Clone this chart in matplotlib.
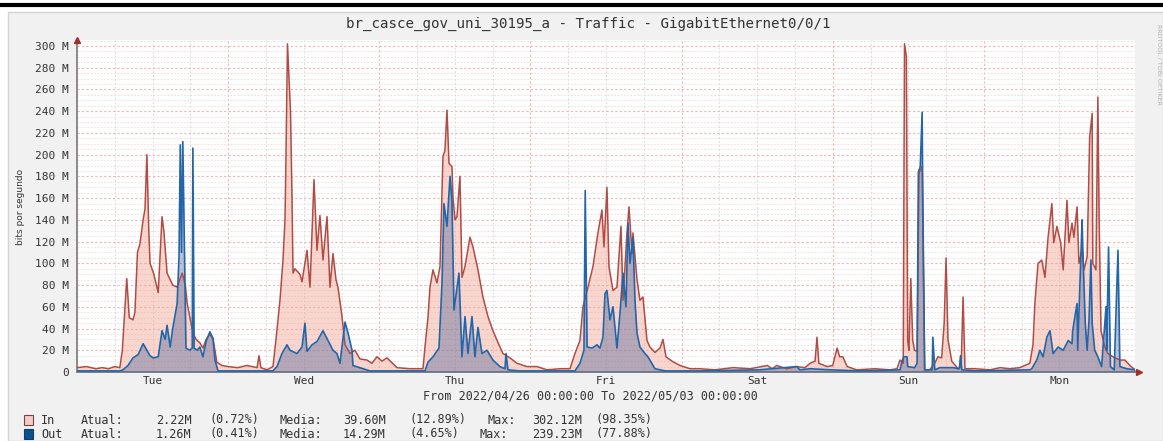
import matplotlib
matplotlib.use("Agg")
import matplotlib.pyplot as plt
from matplotlib.ticker import MultipleLocator, FuncFormatter
from matplotlib.patches import Rectangle
from matplotlib.lines import Line2D

W, H = 1163, 441
MONO = "DejaVu Sans Mono"

title = "br_casce_gov_uni_30195_a - Traffic - GigabitEthernet0/0/1"
period = "From 2022/04/26 00:00:00 To 2022/05/03 00:00:00"
days = ["Tue", "Wed", "Thu", "Fri", "Sat", "Sun", "Mon"]

# hours since 2022/04/26 00:00, traffic in Mbit/s
in_hours = [0, 1.5, 3, 4, 5, 6, 6.8, 7.2, 7.9, 8.3, 8.9, 9.2, 9.6, 10.0, 10.5, 10.8, 11.1, 11.4,
            11.6, 12.2, 12.9, 13.5, 13.8, 14.3, 15.2, 15.9, 16.7, 17.2, 17.5, 17.9, 18.4, 18.9,
            19.5, 20.0, 20.5, 21.1, 21.6, 21.9, 22.2, 23, 24, 25.5, 27, 28.6, 28.9, 29.2, 30.17,
            31.12, 31.6, 32.23, 32.71, 33.03, 33.19, 33.42, 33.9, 34.14, 34.3, 34.6, 35.4, 35.73,
            36.2, 36.52, 37.0, 37.63, 38.11, 38.58, 39.06, 39.7, 40.17, 40.65, 41.12, 41.44, 42.08,
            42.56, 43.35, 44.14, 44.93, 46.05, 46.84, 47.63, 48.43, 49.22, 50.81, 52.87, 54.94,
            55.26, 55.73, 56.05, 56.53, 57.16, 57.64, 58.11, 58.43, 58.75, 59.07, 59.54, 59.7,
            60.02, 60.34, 60.81, 61.13, 61.61, 62.4, 62.88, 63.67, 64.46, 65.26, 66.05, 66.85,
            67.64, 68.75, 69.86, 71.45, 73.04, 74.63, 76.69, 78.28,
            79.07, 79.87, 80.34, 81.14, 81.93, 82.72, 83.36, 83.68, 84.15, 84.47, 85.11, 85.74,
            86.38, 86.7, 87.33, 87.65, 88.13, 88.28, 88.92, 89.39, 89.87, 90.51, 90.98, 91.78,
            92.57, 93.05, 93.52, 94.48, 95.75, 97.34,
            98.92, 101.3, 104.2, 106.9, 109.6, 110.4, 111.1, 112.7, 114.3, 115.6, 116.4, 117.2,
            117.5, 117.8, 119.1, 120.0, 120.7, 121.1, 121.6, 122.3, 123.8, 126.7, 129.1, 130.2,
            130.7, 131.2, 131.4, 131.7, 131.9, 132.1, 132.4, 132.7, 133.0, 133.4, 133.7, 134.2,
            134.6, 135.4, 136.2, 136.7, 137.3, 137.7, 138.0, 138.3, 138.9, 139.9, 140.4, 140.7,
            141.0, 142.6, 145.0, 146.6, 148.1, 149.7, 151.3,
            151.8, 152.1, 152.6, 153.2, 153.7, 154.2, 154.8, 155.1, 155.6, 156.2, 156.6, 157.2,
            157.5, 158.0, 158.3, 158.8, 159.1, 159.6, 159.9, 160.4, 160.8, 161.2, 161.3, 161.8,
            162.1, 162.3, 162.6, 163.2, 163.7, 164.5, 165.6, 166.4, 167.2, 168.0]
in_mbps = [4, 5, 3, 4, 3, 5, 4, 20, 86, 50, 48, 55, 110, 118, 140, 150, 200, 130,
           100, 90, 73, 143, 129, 91, 80, 78, 91, 80, 63, 51, 36, 30,
           27, 22, 30, 35, 30, 20, 9, 6, 5, 4, 6, 4, 15, 4, 2,
           5, 30, 66, 103, 140, 200, 302, 240, 161, 91, 95, 90, 83,
           100, 112, 78, 177, 112, 144, 103, 143, 78, 109, 85, 78, 51,
           25, 17, 20, 12, 11, 8, 14, 10, 13, 4, 3, 3,
           23, 50, 78, 94, 82, 97, 198, 204, 241, 192, 189, 161,
           140, 143, 180, 87, 97, 124, 115, 94, 69, 51, 38, 27,
           17, 13, 8, 5, 5, 2, 3, 3,
           17, 29, 60, 78, 97, 128, 149, 115, 170, 97, 75, 78,
           134, 66, 128, 152, 109, 128, 85, 66, 69, 29, 23, 18,
           22, 30, 14, 10, 6, 3,
           3, 2, 4, 3, 6, 3, 6, 3, 5, 4, 8, 10,
           32, 8, 5, 6, 22, 14, 14, 5, 2, 3, 2, 3,
           11, 8, 302, 290, 29, 20, 86, 29, 20, 19, 183, 189,
           2, 2, 8, 14, 13, 45, 105, 30, 10, 3, 5, 69,
           3, 3, 2, 4, 3, 4, 8,
           25, 63, 100, 103, 87, 124, 155, 119, 134, 119, 94, 158,
           119, 137, 124, 152, 100, 112, 94, 106, 216, 238, 100, 94,
           253, 143, 38, 23, 17, 14, 11, 11, 6, 2]

out_hours = [0, 3, 6.8, 7.3, 8.1, 8.9, 9.7, 10.5, 11.1, 11.6, 12.1, 12.9, 13.5, 14.0, 14.3, 14.8,
             15.2, 15.9, 16.2, 16.4, 16.6, 16.8, 17.1, 17.3, 17.9, 18.3, 18.4, 18.6, 19.1, 19.5,
             20.0, 20.5, 21.1, 21.6, 21.9, 22.4, 24.3, 30.6, 31.1,
             31.76, 32.55, 33.34, 33.82, 34.93, 35.73, 36.2, 36.52, 37.31, 38.11, 39.06, 39.85,
             40.65, 41.28, 41.76, 42.56, 43.03, 43.67, 43.82, 45.41, 46.5, 55.26,
             55.73, 56.53, 57.48, 57.96, 58.27, 58.75, 59.23, 59.54, 59.86, 60.34, 60.65, 61.13,
             61.61, 62.08, 62.72, 63.19, 63.67, 64.31, 65.1, 66.05, 67.16, 67.96, 68.12, 68.43,
             70.3, 79.07,
             79.87, 80.5, 80.7, 81.0, 81.77, 82.57, 83.04, 83.52, 83.84, 84.15, 84.63, 85.11,
             85.74, 86.22, 86.7, 87.17, 87.49, 87.81, 88.28, 88.6, 88.92, 89.39, 90.19, 90.66,
             91.78, 93.4,
             98.9, 108.4, 114.3, 114.8, 116.4, 119.6, 124.3, 130.7,
             131.0, 131.3, 131.8, 131.9, 133.0, 133.4, 133.6, 133.9, 134.2, 134.3, 134.6, 135.8,
             135.9, 136.2, 137.0, 139.1, 140.1, 140.3, 140.5, 142.6, 151.3,
             151.6, 152.4, 152.9, 153.4, 154.0, 154.5, 155.0, 155.8, 156.6, 157.4, 158.0, 158.1,
             158.8, 158.9, 159.3, 159.6, 159.7, 160.1, 160.4, 160.7, 161.0, 161.2, 161.6, 162.1,
             162.7, 163.4, 163.5, 163.8, 164.1, 164.7, 165.3, 165.6, 166.7, 168.0]
out_mbps = [1, 1, 1, 2, 6, 13, 16, 26, 20, 15, 13, 14, 38, 30, 43, 23,
            40, 63, 106, 209, 110, 212, 100, 22, 20, 22, 206, 22, 20, 23,
            14, 28, 37, 31, 11, 1, 1, 1, 1,
            5, 17, 25, 20, 17, 23, 45, 19, 25, 28, 38, 29,
            20, 17, 8, 46, 36, 20, 6, 3, 1, 1,
            9, 14, 22, 82, 155, 134, 180, 158, 57, 78, 91, 14,
            51, 17, 51, 14, 41, 17, 20, 11, 5, 3, 17, 2,
            1, 1,
            8, 20, 167, 23, 22, 25, 22, 32, 72, 75, 48, 60,
            22, 54, 91, 60, 137, 100, 124, 66, 36, 23, 17, 14,
            3, 1,
            1, 2, 5, 2, 3, 2, 1, 2,
            10, 14, 14, 5, 4, 8, 184, 189, 239, 161, 2, 2,
            32, 2, 4, 4, 3, 15, 2, 1, 2,
            3, 11, 20, 14, 32, 38, 17, 23, 20, 29, 26, 38,
            63, 20, 87, 140, 115, 45, 20, 48, 103, 45, 20, 14,
            5, 60, 20, 115, 5, 2, 112, 5, 3, 2]

legend_rows = [
    ("In", "2.22M", "(0.72%)", "39.60M", "(12.89%)", 487, "302.12M", "(98.35%)"),
    ("Out", "1.26M", "(0.41%)", "14.29M", "(4.65%)", 479, "239.23M", "(77.88%)"),
]
legend_colors = [("#f6cdc5", "#6a4a48"), ("#0d4f8f", "#0d3f70")]


def fx(px):
    return px / W


def fy(py):
    return 1 - py / H


fig = plt.figure(figsize=(W / 100, H / 100), dpi=100, facecolor="white")

# background panel and top rule
fig.patches.append(Rectangle((fx(8), 0), fx(W - 8), fy(12), transform=fig.transFigure,
                             facecolor="#f1f1f1", edgecolor="#d4d4d4", lw=1, zorder=-10))
fig.lines.append(Line2D([0, 1], [fy(5), fy(5)], transform=fig.transFigure,
                        color="black", lw=3, zorder=1))

ax = fig.add_axes([fx(77), fy(372), fx(1135 - 77), (372 - 40) / H])
ax.set_facecolor("white")
ax.set_xlim(0, 168)
ax.set_ylim(0, 305.5)

# grid
ax.yaxis.set_major_locator(MultipleLocator(20))
ax.yaxis.set_minor_locator(MultipleLocator(5))
ax.grid(which="major", axis="y", color="#f4b4b4", lw=0.8, ls=(0, (2, 2)), zorder=0)
ax.grid(which="minor", axis="y", color="#eddada", lw=0.6, ls=(0, (2, 2)), zorder=0)
for h in range(6, 168, 6):
    if h % 24 == 0:
        ax.axvline(h, color="#f4b4b4", lw=0.8, ls=(0, (2, 2)), zorder=0)
    else:
        ax.axvline(h, color="#dcdcdc", lw=0.7, ls=(0, (2, 2)), zorder=0)

# series
ax.fill_between(in_hours, in_mbps, color="#f0a494", alpha=0.45, lw=0, zorder=2)
ax.fill_between(out_hours, out_mbps, color="#2a4a8a", alpha=0.33, lw=0, zorder=3)
ax.plot(in_hours, in_mbps, color="#b04c46", lw=1.1, zorder=4)
ax.plot(out_hours, out_mbps, color="#2266aa", lw=1.2, zorder=5)

# axes
for s in ("top", "right"):
    ax.spines[s].set_visible(False)
for s in ("left", "bottom"):
    ax.spines[s].set_color("#8a8a8a")
    ax.spines[s].set_linewidth(1.4)
ax.plot([0], [1.0], marker="^", ms=5, color="#a03030", transform=ax.transAxes,
        clip_on=False, zorder=6)
ax.plot([1.004], [0], marker=">", ms=5, color="#a03030", transform=ax.transAxes,
        clip_on=False, zorder=6)

ax.yaxis.set_major_formatter(FuncFormatter(lambda v, p: "0" if v == 0 else f"{v:.0f} M"))
ax.tick_params(axis="y", which="both", length=0, pad=6, labelsize=8, labelcolor="#333333")
ax.set_xticks([12 + 24 * i for i in range(7)])
ax.set_xticklabels(days)
ax.tick_params(axis="x", length=0, pad=3, labelsize=8, labelcolor="#333333")
for lab in ax.get_xticklabels() + ax.get_yticklabels():
    lab.set_family(MONO)

# texts
fig.text(fx(588), fy(24), title, family=MONO, fontsize=10.2, color="#333333",
         ha="center", va="center")
fig.text(fx(21), fy(207), "bits por segundo", rotation=90, fontsize=6.5,
         color="#333333", ha="center", va="center")
fig.text(fx(590), fy(396), period, family=MONO, fontsize=8.5, color="#333333",
         ha="center", va="center")
fig.text(fx(1159), fy(64), "RRDTOOL / TOBI OETIKER", rotation=270, fontsize=4.5,
         color="#b0b0b0", ha="center", va="center")

# legend
for i, row in enumerate(legend_rows):
    name, cur, curp, avg, avgp, max_x, mx, mxp = row
    yc = 420 + 14 * i
    face, edge = legend_colors[i]
    fig.patches.append(Rectangle((fx(24), fy(yc + 5)), fx(9), 10 / H, transform=fig.transFigure,
                                 facecolor=face, edgecolor=edge, lw=0.8, zorder=3))
    pieces = [(41, name), (81, "Atual:"), (156, cur), (210, curp), (279, "Media:"),
              (343, avg), (410, avgp), (max_x, "Max:"), (532, mx), (595, mxp)]
    for px, s in pieces:
        fig.text(fx(px), fy(yc), s, family=MONO, fontsize=8.5, color="#333333",
                 ha="left", va="center")

fig.savefig("out.png", dpi=100, facecolor="white")
